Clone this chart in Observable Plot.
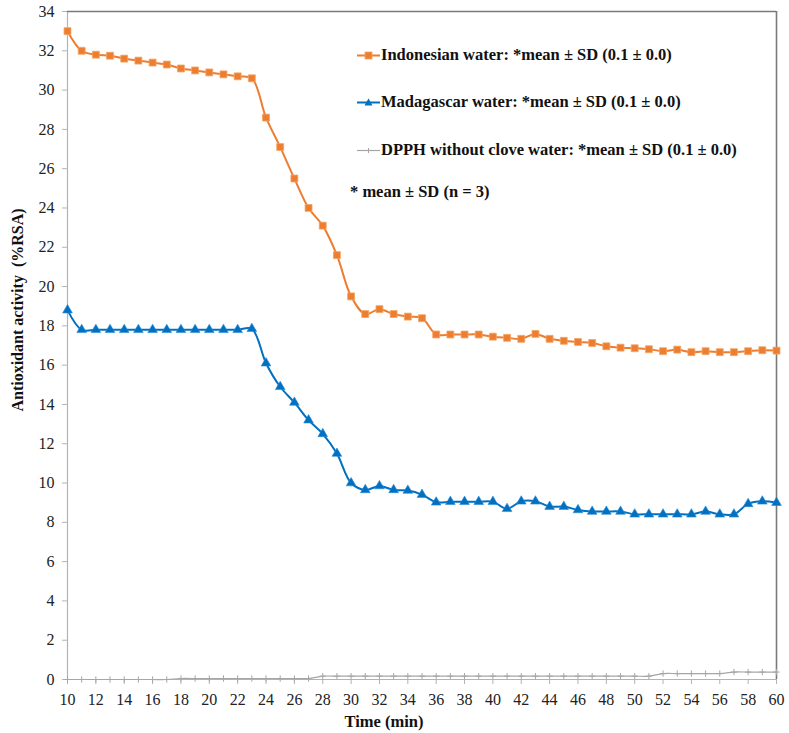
<!DOCTYPE html>
<html><head><meta charset="utf-8">
<script src="https://cdn.jsdelivr.net/npm/d3@7"></script>
<script src="https://cdn.jsdelivr.net/npm/@observablehq/plot@0.6"></script>
<style>
body{margin:0;background:#fff}
#wrap{position:relative;width:789px;height:733px;font-family:"Liberation Serif","Times New Roman",Times,"Nimbus Roman","DejaVu Serif",serif}
.leg{position:absolute;font-weight:bold;font-size:16.5px;color:#111;white-space:nowrap;line-height:18px;display:flex;align-items:center}
.leg svg{margin-right:1px}
svg text{font-family:"Liberation Serif","Times New Roman",Times,"Nimbus Roman","DejaVu Serif",serif}
</style>
</head><body><div id="wrap"></div>
<script>
const minutes = [10,11,12,13,14,15,16,17,18,19,20,21,22,23,24,25,26,27,28,29,30,31,32,33,34,35,36,37,38,39,40,41,42,43,44,45,46,47,48,49,50,51,52,53,54,55,56,57,58,59,60];
const indonesian = [33.0,32.0,31.8,31.75,31.6,31.5,31.4,31.3,31.1,31.0,30.9,30.8,30.7,30.6,28.6,27.1,25.5,24.0,23.1,21.6,19.5,18.6,18.85,18.6,18.47,18.39,17.56,17.56,17.56,17.56,17.45,17.39,17.34,17.59,17.34,17.24,17.18,17.13,16.96,16.89,16.86,16.81,16.71,16.79,16.66,16.71,16.66,16.66,16.71,16.76,16.74];
const madagascar = [18.8,17.8,17.8,17.8,17.8,17.8,17.8,17.8,17.8,17.8,17.8,17.8,17.8,17.85,16.1,14.9,14.1,13.2,12.5,11.5,10.0,9.65,9.85,9.65,9.62,9.41,9.02,9.05,9.05,9.05,9.05,8.69,9.07,9.07,8.80,8.80,8.63,8.55,8.55,8.55,8.41,8.41,8.41,8.41,8.41,8.55,8.41,8.41,8.94,9.07,9.0];
const dpph = [0.0,0.0,0.0,0.0,0.0,0.0,0.0,0.0,0.05,0.05,0.05,0.05,0.05,0.05,0.05,0.05,0.05,0.05,0.17,0.17,0.17,0.17,0.17,0.17,0.17,0.17,0.17,0.17,0.17,0.17,0.17,0.17,0.17,0.17,0.17,0.17,0.17,0.17,0.17,0.17,0.17,0.17,0.3,0.3,0.3,0.3,0.3,0.38,0.38,0.38,0.38];
const xTicks = [10,12,14,16,18,20,22,24,26,28,30,32,34,36,38,40,42,44,46,48,50,52,54,56,58,60];
const yTicks = [0,2,4,6,8,10,12,14,16,18,20,22,24,26,28,30,32,34];
const legendLabels = ["Indonesian water: *mean ± SD (0.1 ± 0.0)","Madagascar water: *mean ± SD (0.1 ± 0.0)","DPPH without clove water: *mean ± SD (0.1 ± 0.0)"];
const noteText = "* mean ± SD (n = 3)";
const xLabel = "Time (min)";
const yLabel = "Antioxidant activity  (%RSA)";

const FONT = '"Liberation Serif","Times New Roman",Times,"Nimbus Roman","DejaVu Serif",serif';
const ORANGE = "#ED7D31", BLUE = "#0070C0", GRAY = "#A6A6A6";
const rows = (vals) => minutes.map((m,i)=>({x:m,y:vals[i]}));
const dI = rows(indonesian), dM = rows(madagascar), dD = rows(dpph);

const chart = Plot.plot({
  width:789, height:733,
  marginLeft:67, marginRight:13, marginTop:11, marginBottom:54,
  x:{domain:[10,60]},
  y:{domain:[0,34]},
  style:{fontFamily:FONT, fontSize:"16px", background:"white", color:"#222"},
  marks:[
    Plot.ruleX([10],{stroke:"#b3b3b3", strokeWidth:1.2}),
    Plot.ruleY([0],{stroke:"#b3b3b3", strokeWidth:1.2}),
    Plot.ruleX([60],{stroke:"#7a7a7a", strokeWidth:1.6}),
    Plot.ruleY([34],{stroke:"#7a7a7a", strokeWidth:1.6}),
    Plot.axisX({ticks:xTicks, tickSize:5, tickPadding:9, stroke:"#b3b3b3", fill:"#222", tickFormat:d=>String(d), label:null}),
    Plot.axisY({ticks:yTicks, tickSize:5, tickPadding:8, stroke:"#b3b3b3", fill:"#222", tickFormat:d=>String(d), label:null}),
    Plot.line(dD,{x:"x",y:"y",stroke:GRAY,strokeWidth:1.2,curve:"catmull-rom"}),
    Plot.dot(dD,{x:"x",y:"y",symbol:"plus",r:2.2,stroke:GRAY,strokeWidth:1}),
    Plot.line(dM,{x:"x",y:"y",stroke:BLUE,strokeWidth:2,curve:"catmull-rom"}),
    Plot.dot(dM,{x:"x",y:"y",symbol:"triangle",r:3.6,fill:BLUE,stroke:"#2a8ad6",strokeWidth:0.6}),
    Plot.line(dI,{x:"x",y:"y",stroke:ORANGE,strokeWidth:2,curve:"catmull-rom"}),
    Plot.dot(dI,{x:"x",y:"y",symbol:"square",r:3.9,fill:ORANGE,stroke:"#F4A460",strokeWidth:0.8})
  ]
});

const svg = d3.select(chart);
svg.append("text")
  .attr("transform","translate(23,310) rotate(-90)")
  .attr("text-anchor","middle")
  .attr("font-weight","bold")
  .attr("font-size","16px")
  .attr("fill","#111")
  .style("white-space","pre")
  .text(yLabel);
svg.append("text")
  .attr("x",384).attr("y",727)
  .attr("text-anchor","middle")
  .attr("font-weight","bold")
  .attr("font-size","16.5px")
  .attr("fill","#111")
  .text(xLabel);

const wrap = document.getElementById("wrap");
wrap.appendChild(chart);

const swatches = [
  {color:ORANGE, sym:"square", y:55},
  {color:BLUE, sym:"triangle", y:102},
  {color:GRAY, sym:"plus", y:150}
];
swatches.forEach((s,i)=>{
  const div = document.createElement("div");
  div.className="leg";
  div.style.left="357px";
  div.style.top=(s.y-9)+"px";
  let sym = "";
  if (s.sym==="square") sym = `<rect x="8" y="6" width="7" height="7" fill="${s.color}" stroke="#F4A460" stroke-width="0.8"/>`;
  if (s.sym==="triangle") sym = `<path d="M11.5,5.5 L15.5,12.5 L7.5,12.5 Z" fill="${s.color}"/>`;
  if (s.sym==="plus") sym = `<path d="M11.5,7 V12 M9,9.5 H14" stroke="${s.color}" stroke-width="1"/>`;
  const sw = s.sym==="plus" ? 1.2 : 2;
  div.innerHTML = `<svg width="23" height="18"><line x1="0" x2="23" y1="9.5" y2="9.5" stroke="${s.color}" stroke-width="${sw}"/>${sym}</svg><span>${legendLabels[i]}</span>`;
  wrap.appendChild(div);
});
const note = document.createElement("div");
note.className="leg";
note.style.left="350px";
note.style.top="183px";
note.textContent = noteText;
wrap.appendChild(note);
</script>
</body></html>
